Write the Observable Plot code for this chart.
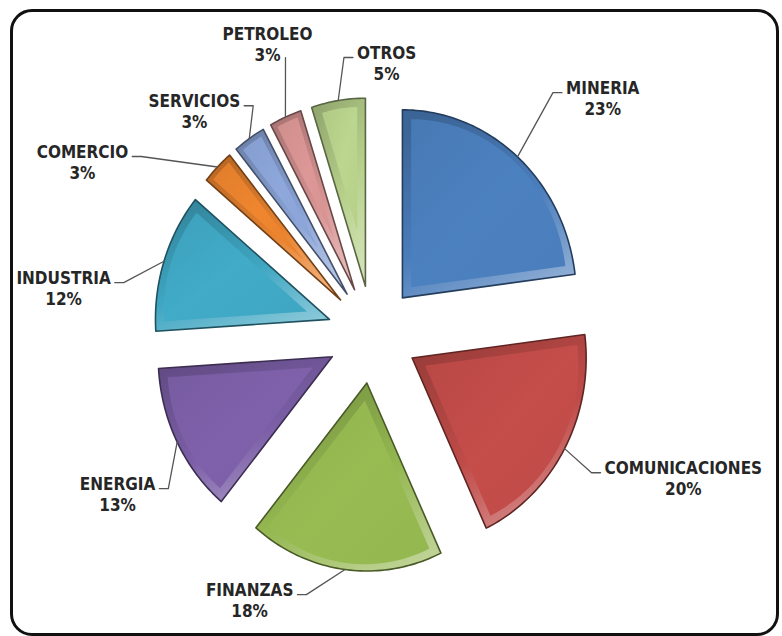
<!DOCTYPE html>
<html><head><meta charset="utf-8">
<script src="https://cdn.jsdelivr.net/npm/d3@7"></script>
<script src="https://cdn.jsdelivr.net/npm/@observablehq/plot@0.6"></script>
<style>
html,body{margin:0;padding:0;background:#fff;}
#wrap{position:relative;width:782px;height:636px;overflow:hidden;}
#frame{position:absolute;left:10px;top:9px;width:769px;height:627px;border:3px solid #111;border-radius:22px;box-sizing:border-box;pointer-events:none;}
</style></head>
<body><div id="wrap"><div id="chart"></div><div id="frame"></div></div>
<script>
// ---- data ----
const categories = ["MINERIA","COMUNICACIONES","FINANZAS","ENERGIA","INDUSTRIA","COMERCIO","SERVICIOS","PETROLEO","OTROS"];
const values = [23, 20, 18, 13, 12, 3, 3, 3, 5];
const percentLabels = values.map(v => v + "%");

// ---- styles / layout ----
const palette = ["#4a7dbb","#bf4b48","#94b750","#7b5ea6","#3fa6c2","#e8822e","#8aa3d6","#d69392","#b6d08a"];
const labelAngleShift = [5, -5.7, 19.4, -3, -10, -16.1, -6.5, 2.1, 12.2]; // degrees, relative to slice middle
const labelRadius = [1.827, 1.942, 1.577, 1.692, 1.793, 1.904, 1.570, 1.661, 1.449];
const W = 782, H = 636, cx = 372, cy = 334, kx = 174, ky = 188, explode = 0.26;
const FONT = '"Liberation Sans Narrow","Arial Narrow","DejaVu Sans Condensed",sans-serif';
const FSIZE = 17;

// ---- geometry from data ----
const arcs = d3.pie().sort(null).value(d => d)(values);
const outerRows = [], innerRows = [], leaderRows = [], labelRows = [];
const ctx = document.createElement("canvas").getContext("2d");
ctx.font = `bold ${FSIZE}px ${FONT}`;
const toUX = px => (px - cx) / kx, toUY = py => (cy - py) / ky;

arcs.forEach((a, i) => {
  const a0 = a.startAngle, a1 = a.endAngle, m = (a0 + a1) / 2, h = (a1 - a0) / 2;
  const ax = explode * Math.sin(m), ay = explode * Math.cos(m);
  const n = Math.max(8, Math.ceil((a1 - a0) / 0.02));
  outerRows.push({i, x: ax, y: ay});
  for (let k = 0; k <= n; k++) {
    const t = a0 + (a1 - a0) * k / n;
    outerRows.push({i, x: ax + Math.sin(t), y: ay + Math.cos(t)});
  }
  outerRows.push({i, x: ax, y: ay});
  // inset face
  const th = Math.min(0.05, 0.3 * Math.sin(h));
  const off = th / Math.sin(h);
  const rho = 1 - th - off * Math.cos(h);
  const bx = ax + off * Math.sin(m), by = ay + off * Math.cos(m);
  innerRows.push({i, x: bx, y: by});
  for (let k = 0; k <= n; k++) {
    const t = a0 + (a1 - a0) * k / n;
    innerRows.push({i, x: bx + rho * Math.sin(t), y: by + rho * Math.cos(t)});
  }
  innerRows.push({i, x: bx, y: by});
  // label
  const A = m + labelAngleShift[i] * Math.PI / 180, R = labelRadius[i];
  const lx = R * Math.sin(A), ly = R * Math.cos(A);
  labelRows.push({i, x: lx, y: ly, text: categories[i] + "\n" + percentLabels[i]});
  // leader line (in px, then to units)
  const Lx = cx + lx * kx, Ly = cy - ly * ky;
  const sx = cx + (ax + Math.sin(m)) * kx, sy = cy - (ay + Math.cos(m)) * ky;
  const halfW = Math.max(ctx.measureText(categories[i]).width, ctx.measureText(percentLabels[i]).width) / 2;
  const pctHalf = ctx.measureText(percentLabels[i]).width / 2;
  const pts = [[sx, sy]];
  if (Math.abs(sx - Lx) < halfW && sy > Ly) {
    const side = Math.sign(sx - Lx) || 1;
    pts.push([Lx + side * (pctHalf + 5), Ly + 14]);
  } else {
    const side = Math.sign(sx - Lx);
    const ex = Lx + side * (halfW + 4), ey = Ly - 5;
    pts.push([ex + side * 9, ey], [ex, ey]);
  }
  pts.forEach(p => leaderRows.push({i, x: toUX(p[0]), y: toUY(p[1])}));
});

const marks = [];
categories.forEach((c, i) => {
  const dark = d3.color(palette[i]).darker(2).formatHex();
  marks.push(Plot.line(outerRows.filter(d => d.i === i), {x: "x", y: "y", curve: "linear",
    fill: `url(#bevel${i})`, stroke: dark, strokeWidth: 1.6, strokeLinejoin: "round"}));
  marks.push(Plot.line(innerRows.filter(d => d.i === i), {x: "x", y: "y", curve: "linear",
    fill: `url(#face${i})`, stroke: "none"}));
});
marks.push(Plot.line(leaderRows, {x: "x", y: "y", z: "i", stroke: "#555", strokeWidth: 1.3, curve: "linear"}));
marks.push(Plot.text(labelRows, {x: "x", y: "y", text: "text", fontFamily: FONT, fontSize: FSIZE,
  fontWeight: "bold", fill: "#262626", lineHeight: 1.22, textAnchor: "middle"}));

const chart = Plot.plot({
  width: W, height: H, margin: 0,
  x: {domain: [-cx / kx, (W - cx) / kx], range: [0, W], axis: null},
  y: {domain: [(cy - H) / ky, cy / ky], range: [H, 0], axis: null},
  style: {background: "transparent", overflow: "visible"},
  marks
});

const defs = d3.select(chart).insert("defs", ":first-child");
palette.forEach((c, i) => {
  const base = d3.color(c);
  const light = d3.interpolateRgb(c, "#ffffff")(0.38);
  const g = defs.append("linearGradient").attr("id", `bevel${i}`)
    .attr("x1", 0.25).attr("y1", 0).attr("x2", 0.75).attr("y2", 1);
  g.append("stop").attr("offset", 0).attr("stop-color", base.darker(0.6).formatHex());
  g.append("stop").attr("offset", 0.55).attr("stop-color", base.formatHex());
  g.append("stop").attr("offset", 1).attr("stop-color", light);
  const f = defs.append("linearGradient").attr("id", `face${i}`)
    .attr("x1", 0).attr("y1", 0).attr("x2", 1).attr("y2", 1);
  f.append("stop").attr("offset", 0).attr("stop-color", base.darker(0.1).formatHex());
  f.append("stop").attr("offset", 0.5).attr("stop-color", base.brighter(0.08).formatHex());
  f.append("stop").attr("offset", 1).attr("stop-color", base.formatHex());
});

document.getElementById("chart").appendChild(chart);
</script>
</body></html>
